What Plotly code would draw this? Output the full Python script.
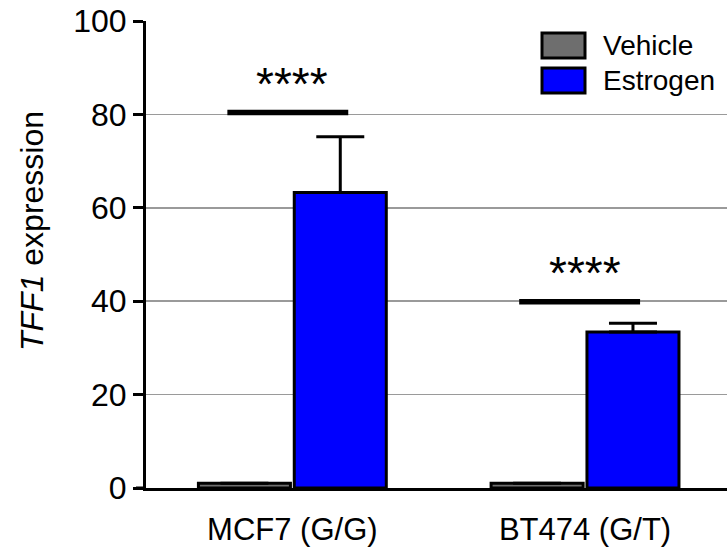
import plotly.graph_objects as go

categories = ["MCF7 (G/G)", "BT474 (G/T)"]
vehicle = [1.0, 1.0]
vehicle_err = [0.0, 0.0]
estrogen = [63.3, 33.4]
estrogen_err = [11.9, 1.9]
sig_y = [80.4, 39.9]
sig_x0 = [-0.222, 0.775]
sig_x1 = [0.191, 1.188]
sig_label = ["****", "****"]
y_ticks = [0, 20, 40, 60, 80, 100]

FONT = "Liberation Sans, Arial, sans-serif"
xpos = list(range(len(categories)))

fig = go.Figure()
fig.add_trace(go.Bar(
    x=xpos, y=vehicle, name="Vehicle",
    marker=dict(color="#6e6e6e", line=dict(color="black", width=3)),
    error_y=dict(type="data", symmetric=False, array=vehicle_err, arrayminus=[0]*len(vehicle),
                 color="black", thickness=3, width=24),
))
fig.add_trace(go.Bar(
    x=xpos, y=estrogen, name="Estrogen",
    marker=dict(color="#0000ff", line=dict(color="black", width=3)),
    error_y=dict(type="data", symmetric=False, array=estrogen_err, arrayminus=[0]*len(estrogen),
                 color="black", thickness=3, width=24),
))

for i in range(len(categories)):
    fig.add_trace(go.Scatter(
        x=[sig_x0[i], sig_x1[i]], y=[sig_y[i], sig_y[i]], mode="lines",
        line=dict(color="black", width=5.5), showlegend=False, hoverinfo="skip",
    ))
    fig.add_annotation(
        x=xpos[i], y=sig_y[i], xref="x", yref="y", text=sig_label[i],
        showarrow=False, yanchor="bottom", yshift=1,
        font=dict(family=FONT, size=46, color="black"),
    )

# custom legend
legend_items = [("Vehicle", "#6e6e6e"), ("Estrogen", "#0000ff")]
for k, (name, col) in enumerate(legend_items):
    y0 = 1 - (12 + k * 35) / 467
    y1 = 1 - (37 + k * 35) / 467
    fig.add_shape(type="rect", xref="paper", yref="paper",
                  x0=(542 - 146) / 581, x1=(585 - 146) / 581, y0=y1, y1=y0,
                  fillcolor=col, line=dict(color="black", width=3))
    fig.add_annotation(xref="paper", yref="paper", x=(601 - 146) / 581, y=(y0 + y1) / 2,
                       text=name, showarrow=False, xanchor="left", yanchor="middle",
                       font=dict(family=FONT, size=28, color="black"))

# small extension of the x baseline to the left of the y axis
fig.add_shape(type="line", xref="paper", yref="paper", x0=(136 - 146) / 581, x1=0,
              y0=0, y1=0, line=dict(color="black", width=3))

# y-axis title
fig.add_annotation(xref="paper", yref="paper", x=(32 - 146) / 581, y=(488 - 231) / 467,
                   text="<i>TFF1</i> expression", textangle=-90, showarrow=False,
                   xanchor="center", yanchor="middle",
                   font=dict(family=FONT, size=32, color="black"))

fig.update_layout(
    width=727, height=551,
    margin=dict(l=146, r=0, t=21, b=63, autoexpand=False),
    paper_bgcolor="white", plot_bgcolor="white",
    barmode="group", bargap=0.345, bargroupgap=0.04,
    showlegend=False, hovermode=False,
    font=dict(family=FONT, color="black"),
)
fig.update_xaxes(
    range=[-0.5, 1.485], tickvals=xpos, ticktext=categories,
    showline=True, linecolor="black", linewidth=3, ticks="", showgrid=False,
    tickfont=dict(family=FONT, size=31, color="black"), ticklabelstandoff=12,
    zeroline=False, automargin=False,
)
fig.update_yaxes(
    range=[0, 100], tickvals=y_ticks,
    showline=True, linecolor="black", linewidth=3, ticks="outside", ticklen=10,
    tickwidth=3, tickcolor="black",
    showgrid=True, gridcolor="#9a9a9a", gridwidth=1.5, zeroline=False,
    tickfont=dict(family=FONT, size=32, color="black"), automargin=False,
)

fig.write_html(
    "out.html",
    config={"displayModeBar": False, "staticPlot": True},
    post_script="document.body.style.margin='0';document.body.style.overflow='hidden';",
)
